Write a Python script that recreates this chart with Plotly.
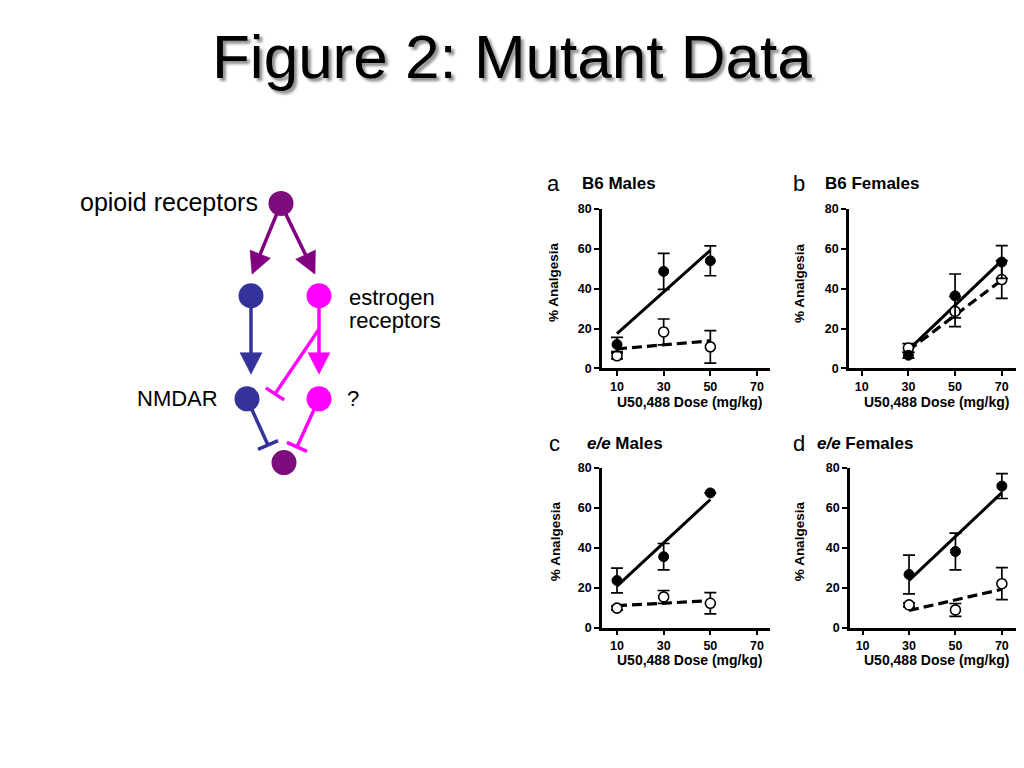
import math
import plotly.graph_objects as go

# ---------------- data ----------------
dose_low = [10, 30, 50]
dose_high = [30, 50, 70]
fit_low = [10, 50]
fit_high = [30, 70]

# a: B6 Males
a_filled = [12.0, 48.7, 54.0]
a_filled_err = [3.6, 9.0, 7.5]
a_open = [6.3, 18.3, 10.8]
a_open_err = [1.5, 6.5, 8.2]
a_fit_solid = [17.5, 59.3]
a_fit_dash = [9.8, 13.8]

# b: B6 Females
b_filled = [6.6, 36.4, 53.4]
b_filled_err = [1.5, 11.0, 8.2]
b_open = [10.2, 28.6, 44.6]
b_open_err = [2.2, 7.6, 9.5]
b_fit_solid = [9.3, 54.1]
b_fit_dash = [9.0, 44.3]

# c: e/e Males
c_filled = [23.5, 35.4, 67.3]
c_filled_err = [6.2, 6.6, None]
c_open = [9.7, 15.3, 12.1]
c_open_err = [1.0, 3.2, 5.3]
c_fit_solid = [20.7, 64.0]
c_fit_dash = [10.9, 13.4]

# d: e/e Females
d_filled = [26.5, 38.0, 70.7]
d_filled_err = [9.7, 9.2, 6.2]
d_open = [11.3, 8.8, 21.9]
d_open_err = [1.0, 3.2, 8.0]
d_fit_solid = [23.6, 67.4]
d_fit_dash = [8.5, 19.1]

x_ticks = [10, 30, 50, 70]
y_ticks = [0, 20, 40, 60, 80]

panel_letters = ["a", "b", "c", "d"]
panel_titles = ["<b>B6 Males</b>", "<b>B6 Females</b>",
                "<b><i>e/e</i> Males</b>", "<b><i>e/e</i> Females</b>"]
x_title = "U50,488 Dose (mg/kg)"
y_title = "% Analgesia"
main_title = "Figure 2: Mutant Data"

# diagram nodes
node_names = ["opioid", "mid_left", "mid_right", "nmdar", "unknown", "bottom"]

# ---------------- layout helpers ----------------
# the page body has an 8px margin, so the figure is 1016x760 and all
# positions below are given in page pixels, converted with px/py.
OFF = 8
PAGE_W, PAGE_H = 1024, 768
W, H = PAGE_W - OFF, PAGE_H - OFF
FONT = "Liberation Sans, Arial, Helvetica, sans-serif"
PURPLE = "#800080"
PURPLE_NODE = "#7d0c7c"
BLUE = "#333399"
MAGENTA = "#ff00ff"


def px(x):
    return (x - OFF) / W


def py(y):
    return 1 - (y - OFF) / H


fig = go.Figure()

panels = [
    dict(dose=dose_low, fitx=fit_low, filled=a_filled, ferr=a_filled_err, open=a_open, oerr=a_open_err,
         fs=a_fit_solid, fd=a_fit_dash, xd=(602, 770), yd=(205.7, 368), xr=(3.57, 75.57),
         letter_xy=(553, 180), title_x=580, ytl=(554, 280), xtl=(690, 402)),
    dict(dose=dose_high, fitx=fit_high, filled=b_filled, ferr=b_filled_err, open=b_open, oerr=b_open_err,
         fs=b_fit_solid, fd=b_fit_dash, xd=(849, 1018), yd=(205.7, 368), xr=(4.56, 76.96),
         letter_xy=(799, 180), title_x=823, ytl=(800, 281), xtl=(937, 402)),
    dict(dose=dose_low, fitx=fit_low, filled=c_filled, ferr=c_filled_err, open=c_open, oerr=c_open_err,
         fs=c_fit_solid, fd=c_fit_dash, xd=(602, 770), yd=(469, 632), xr=(3.57, 75.57),
         letter_xy=(554, 445), title_x=585, ytl=(555, 544), xtl=(690, 665)),
    dict(dose=dose_high, fitx=fit_high, filled=d_filled, ferr=d_filled_err, open=d_open, oerr=d_open_err,
         fs=d_fit_solid, fd=d_fit_dash, xd=(850, 1018), yd=(469, 632), xr=(4.56, 76.96),
         letter_xy=(799, 445), title_x=815, ytl=(799, 544), xtl=(937, 665)),
]

annotations = []
axis_common = dict(showline=True, linecolor="black", linewidth=2.5, ticks="outside", ticklen=5,
                   tickwidth=2, tickcolor="black", showgrid=False, zeroline=False,
                   tickfont=dict(family=FONT, size=12.5, color="black", weight="bold"), fixedrange=True)

for i, p in enumerate(panels):
    n = i + 1
    xa = "x" if n == 1 else f"x{n}"
    ya = "y" if n == 1 else f"y{n}"
    # regression lines
    fig.add_trace(go.Scatter(x=p["fitx"], y=p["fs"], mode="lines", xaxis=xa, yaxis=ya,
                             line=dict(color="black", width=3), showlegend=False, hoverinfo="skip"))
    fig.add_trace(go.Scatter(x=p["fitx"], y=p["fd"], mode="lines", xaxis=xa, yaxis=ya,
                             line=dict(color="black", width=3.2, dash="10px,5px"), showlegend=False,
                             hoverinfo="skip"))
    # open symbols
    fig.add_trace(go.Scatter(x=p["dose"], y=p["open"], mode="markers", xaxis=xa, yaxis=ya,
                             marker=dict(size=10, color="white", line=dict(color="black", width=1.6)),
                             error_y=dict(type="data", array=p["oerr"], color="black", thickness=1.7, width=6),
                             showlegend=False, cliponaxis=False))
    # filled symbols
    fig.add_trace(go.Scatter(x=p["dose"], y=p["filled"], mode="markers", xaxis=xa, yaxis=ya,
                             marker=dict(size=10, color="black", line=dict(color="black", width=1)),
                             error_y=dict(type="data", array=p["ferr"], color="black", thickness=1.7, width=6),
                             showlegend=False, cliponaxis=False))
    fig.layout["xaxis" if n == 1 else f"xaxis{n}"] = dict(
        domain=[px(p["xd"][0]), px(p["xd"][1])], range=list(p["xr"]), tickvals=x_ticks,
        anchor=ya, **axis_common)
    fig.layout["yaxis" if n == 1 else f"yaxis{n}"] = dict(
        domain=[py(p["yd"][1]), py(p["yd"][0])], range=[0, 80], tickvals=y_ticks,
        anchor=xa, **axis_common)
    # texts
    annotations.append(dict(x=px(p["letter_xy"][0]), y=py(p["letter_xy"][1]), xref="paper", yref="paper",
                            text=panel_letters[i], showarrow=False, xanchor="center", yanchor="middle",
                            font=dict(family=FONT, size=22, color="black")))
    annotations.append(dict(x=px(p["title_x"]), y=py(p["letter_xy"][1]), xref="paper", yref="paper",
                            text=panel_titles[i], showarrow=False, xanchor="left", yanchor="middle",
                            font=dict(family=FONT, size=17, color="black")))
    annotations.append(dict(x=px(p["ytl"][0]), y=py(p["ytl"][1]), xref="paper", yref="paper",
                            text=f"<b>{y_title}</b>", textangle=-90, showarrow=False,
                            xanchor="center", yanchor="middle",
                            font=dict(family=FONT, size=13.5, color="black")))
    annotations.append(dict(x=px(p["xtl"][0]), y=py(p["xtl"][1]), xref="paper", yref="paper",
                            text=f"<b>{x_title}</b>", showarrow=False, xanchor="center", yanchor="middle",
                            font=dict(family=FONT, size=14, color="black")))

# main title
annotations.append(dict(x=px(512), y=py(50), xref="paper", yref="paper", text=main_title, showarrow=False,
                        xanchor="center", yanchor="middle",
                        font=dict(family=FONT, size=62, color="black",
                                  shadow="3px 3px 3px rgba(0,0,0,0.45)")))

# ---------------- diagram (overlay axis in page-pixel units) ----------------
node_pos = {"opioid": (281, 200), "mid_left": (251, 294), "mid_right": (319, 294),
            "nmdar": (247, 399), "unknown": (319, 399), "bottom": (284, 464)}
node_col = {"opioid": PURPLE_NODE, "mid_left": BLUE, "mid_right": MAGENTA,
            "nmdar": BLUE, "unknown": MAGENTA, "bottom": PURPLE_NODE}

shapes = []
LW = 3.5
HEAD_L, HEAD_W = 22, 11
BAR = 11


def arrow(x0, y0, x1, y1, col):
    dx, dy = x1 - x0, y1 - y0
    L = math.hypot(dx, dy)
    ux, uy = dx / L, dy / L
    bx, by = x1 - ux * HEAD_L, y1 - uy * HEAD_L
    nx, ny = -uy, ux
    shapes.append(dict(type="line", xref="x5", yref="y5", x0=x0, y0=y0, x1=bx + ux * 2, y1=by + uy * 2,
                       line=dict(color=col, width=LW), layer="below"))
    path = (f"M{bx + nx * HEAD_W},{by + ny * HEAD_W} L{x1},{y1} "
            f"L{bx - nx * HEAD_W},{by - ny * HEAD_W} Z")
    shapes.append(dict(type="path", xref="x5", yref="y5", path=path, fillcolor=col,
                       line=dict(color=col, width=0.5), layer="below"))


def inhibit(x0, y0, x1, y1, col):
    dx, dy = x1 - x0, y1 - y0
    L = math.hypot(dx, dy)
    ux, uy = dx / L, dy / L
    nx, ny = -uy, ux
    shapes.append(dict(type="line", xref="x5", yref="y5", x0=x0, y0=y0, x1=x1, y1=y1,
                       line=dict(color=col, width=LW), layer="below"))
    shapes.append(dict(type="line", xref="x5", yref="y5", x0=x1 + nx * BAR, y0=y1 + ny * BAR,
                       x1=x1 - nx * BAR, y1=y1 - ny * BAR, line=dict(color=col, width=LW), layer="below"))


arrow(279, 205, 252, 272, PURPLE)
arrow(283, 205, 315, 272, PURPLE)
arrow(251, 300, 251, 374, BLUE)
arrow(319, 300, 319, 374, MAGENTA)
inhibit(319, 328, 275, 394, MAGENTA)
inhibit(247, 399, 268, 446, BLUE)
inhibit(319, 399, 297, 448, MAGENTA)

fig.add_trace(go.Scatter(x=[node_pos[k][0] for k in node_names], y=[node_pos[k][1] for k in node_names],
                         mode="markers", xaxis="x5", yaxis="y5",
                         marker=dict(size=25, color=[node_col[k] for k in node_names], line=dict(width=0)),
                         showlegend=False, hoverinfo="skip"))

fig.layout["xaxis5"] = dict(domain=[0, 1], range=[OFF, PAGE_W], visible=False, fixedrange=True, anchor="y5")
fig.layout["yaxis5"] = dict(domain=[0, 1], range=[PAGE_H, OFF], visible=False, fixedrange=True, anchor="x5")

diag_text = [("opioid receptors", 260, 198, "right", 25),
             ("estrogen", 347, 296, "left", 22),
             ("receptors", 347, 319, "left", 22),
             ("NMDAR", 220, 399, "right", 22),
             ("?", 345, 399, "left", 22)]
for t, x, y, anc, sz in diag_text:
    annotations.append(dict(x=px(x), y=py(y), xref="paper", yref="paper", text=t, showarrow=False,
                            xanchor=anc, yanchor="middle", font=dict(family=FONT, size=sz, color="black")))

fig.update_layout(width=W, height=H, margin=dict(l=0, r=0, t=0, b=0), paper_bgcolor="white",
                  plot_bgcolor="rgba(0,0,0,0)", annotations=annotations, shapes=shapes, showlegend=False)

fig.write_html("out.html", config={"displayModeBar": False})
